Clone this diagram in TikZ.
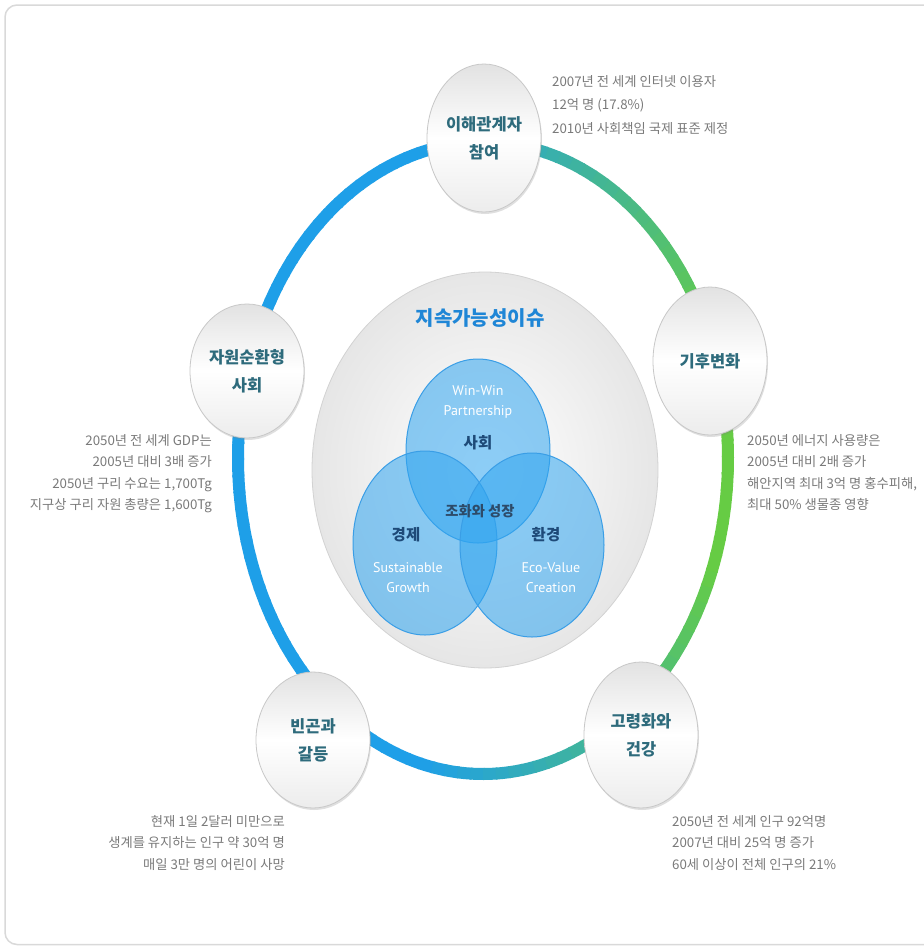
\documentclass[tikz,border=0pt]{standalone}
\usepackage{fontspec}
\setmainfont{Noto Sans CJK KR}
\newfontfamily\en{PT Sans}
\usetikzlibrary{shapes.geometric,shadows}
\definecolor{ringblue}{HTML}{1E9FE8}
\definecolor{ringgreen}{HTML}{66CC44}
\definecolor{nodetext}{HTML}{2E6B7C}
\definecolor{sidetext}{HTML}{7A7A7A}
\definecolor{titleblue}{HTML}{1F86D6}
\definecolor{vennfill}{HTML}{30A5F0}
\definecolor{vennline}{HTML}{3A9EE6}
\definecolor{venndark}{HTML}{1E4A78}
\definecolor{harmtext}{HTML}{2D4B69}
\definecolor{framegray}{HTML}{D9D9D9}
\definecolor{nodeline}{HTML}{C8C8C8}
\definecolor{nodetop}{HTML}{E2E2E2}
\definecolor{nodebot}{HTML}{ECECEC}
\definecolor{coreout}{HTML}{E6E6E6}
\definecolor{coreline}{HTML}{D2D2D2}
\begin{document}
\begin{tikzpicture}[x=1pt,y=1pt,
  issue/.style={ellipse, minimum width=114, minimum height=148, inner sep=0,
    draw=nodeline, line width=0.8, top color=nodetop, bottom color=nodebot,
    middle color=white, drop shadow={opacity=0.25, shadow xshift=1pt, shadow yshift=-2pt},
    align=center, text=nodetext, font=\fontsize{16.5}{28}\selectfont\bfseries},
  note/.style={inner sep=0, text=sidetext, font=\fontsize{13.3}{21.5}\selectfont},
  venn/.style={ellipse, minimum width=144, minimum height=184, inner sep=0,
    fill=vennfill, fill opacity=0.55, draw=vennline, line width=1},
  vlabel/.style={inner sep=0, text=venndark, font=\fontsize{15.5}{16}\selectfont\bfseries},
  elabel/.style={inner sep=0, text=white, align=center, font=\en\fontsize{14}{20}\selectfont},
]
\fill[white] (0,0) rectangle (924,-946);
\useasboundingbox (0,0) rectangle (924,-946);
\draw[framegray, line width=1.5, rounded corners=12] (5,-5) rectangle (960,-944.5);

% ring
\def\cx{483}\def\cy{-458}\def\rx{245}\def\ry{316}
\foreach \a in {0,3,...,357}{
  \pgfmathtruncatemacro\p{max(0,min(100,max((103.5-\a)/0.85,(\a-253.5)/0.85)))}
  \draw[line width=12, ringgreen!\p!ringblue]
    ({\cx+\rx*cos(\a)},{\cy+\ry*sin(\a)})
    arc[start angle=\a, end angle=\a+3.4, x radius=\rx, y radius=\ry];
}

% core
\node[ellipse, minimum width=346, minimum height=396, inner sep=0,
  inner color=white, outer color=coreout, draw=coreline, line width=0.8] (core) at (485,-470) {};
\node[inner sep=0, text=titleblue, font=\fontsize{20}{22}\selectfont\bfseries] (title) at (480,-318) {지속가능성이슈};

% venn
\node[venn] (soc) at (478,-451) {};
\node[venn] (eco) at (425,-543) {};
\node[venn] (env) at (532,-545) {};
\node[elabel] (ww) at (478,-402) {Win-Win\\Partnership};
\node[vlabel] (socl) at (478,-443) {사회};
\node[vlabel, text=harmtext, font=\fontsize{14.3}{16}\selectfont\bfseries] (harm) at (480,-511) {조화와 성장};
\node[vlabel] (ecol) at (406,-535) {경제};
\node[elabel] (sg) at (408,-578) {Sustainable\\Growth};
\node[vlabel] (envl) at (546,-535) {환경};
\node[elabel] (evc) at (551,-578) {Eco-Value\\Creation};

% satellites
\node[issue] (stake) at (484,-138) {이해관계자\\참여};
\node[issue] (climate) at (710,-361) {기후변화};
\node[issue, minimum height=134] (circ) at (247,-371) {자원순환형\\사회};
\node[issue, minimum height=136] (poverty) at (313,-740) {빈곤과\\갈등};
\node[issue, minimum height=146] (aging) at (641,-735) {고령화와\\건강};

% notes
\node[note, anchor=north west, align=left, font=\fontsize{13.3}{23.5}\selectfont] (n1) at (552,-75)
  {2007년 전 세계 인터넷 이용자\\12억 명 (17.8\%)\\2010년 사회책임 국제 표준 제정};
\node[note, anchor=north west, align=left] (n2) at (747,-434)
  {2050년 에너지 사용량은\\2005년 대비 2배 증가\\해안지역 최대 3억 명 홍수피해,\\최대 50\% 생물종 영향};
\node[note, anchor=north east, align=right] (n3) at (212,-434)
  {2050년 전 세계 GDP는\\2005년 대비 3배 증가\\2050년 구리 수요는 1,700Tg\\지구상 구리 자원 총량은 1,600Tg};
\node[note, anchor=north east, align=right] (n4) at (285,-815)
  {현재 1일 2달러 미만으로\\생계를 유지하는 인구 약 30억 명\\매일 3만 명의 어린이 사망};
\node[note, anchor=north west, align=left] (n5) at (672,-815)
  {2050년 전 세계 인구 92억명\\2007년 대비 25억 명 증가\\60세 이상이 전체 인구의 21\%};
\end{tikzpicture}
\end{document}
